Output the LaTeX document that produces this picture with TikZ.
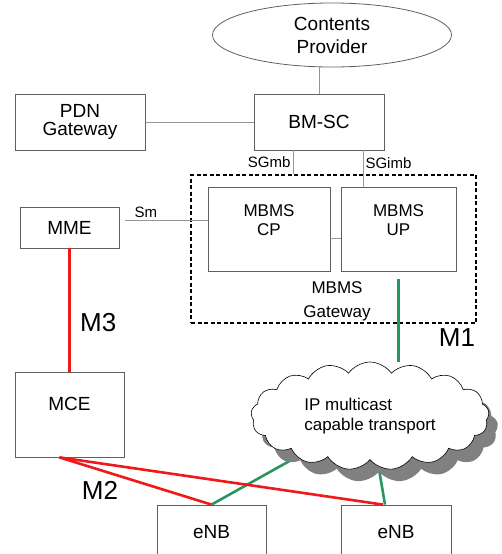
\documentclass[tikz,border=0pt]{standalone}
\usepackage{fontspec}
\setmainfont{Liberation Sans}
\usetikzlibrary{shapes,shapes.symbols,shadows,backgrounds}
\definecolor{boxgray}{RGB}{95,95,95}
\definecolor{linkgray}{RGB}{150,150,150}
\definecolor{mred}{RGB}{240,25,25}
\definecolor{mgreen}{RGB}{40,150,95}
\tikzstyle{block} = [rectangle, draw=boxgray, line width=0.8pt, fill=white,
    align=center, inner sep=0pt, font=\fontsize{19}{18}\selectfont]
\tikzstyle{mbms} = [block, minimum height=84pt, text depth=18pt, font=\fontsize{17}{18.5}\selectfont]
\tikzstyle{line} = [draw=linkgray, line width=1pt]
\tikzstyle{redline} = [draw=mred, line width=2.6pt]
\tikzstyle{greenline} = [draw=mgreen, line width=2.6pt]
\tikzstyle{ifname} = [font=\fontsize{15}{15}\selectfont, inner sep=2pt]
\tikzstyle{mlabel} = [font=\fontsize{26}{26}\selectfont]

\begin{document}
\begin{tikzpicture}[x=1pt, y=-1pt, node distance=2cm, auto]
    \useasboundingbox (0,0) rectangle (502,554);
    \clip (0,0) rectangle (502,554);
    % Place nodes
    \node [ellipse, draw=boxgray, line width=0.8pt, minimum width=239pt, minimum height=64pt,
        align=center, inner sep=0pt, font=\fontsize{19}{23}\selectfont] (provider) at (332,35) {Contents\\Provider};
    \node [block, minimum width=130pt, minimum height=56pt] (bmsc) at (319,122) {BM-SC};
    \node [block, minimum width=130pt, minimum height=56pt, left of=bmsc, node distance=239pt] (pdn) {PDN\\Gateway};
    \node [rectangle, draw=black, line width=1.4pt, dash pattern=on 4pt off 2.5pt,
        minimum width=285pt, minimum height=148pt] (gw) at (333.5,249) {};
    \node [mbms, minimum width=122pt] (mbmscp) at (269,229) {MBMS\\CP};
    \node [mbms, minimum width=115pt, right of=mbmscp, node distance=129.5pt] (mbmsup) {MBMS\\UP};
    \node [align=center, font=\fontsize{17}{24}\selectfont] (gwlabel) at (337,301) {MBMS\\Gateway};
    \node [block, minimum width=99pt, minimum height=41pt] (mme) at (69.5,227.5) {MME};
    \node [block, minimum width=109pt, minimum height=85pt, text depth=22pt, below of=mme, node distance=187pt] (mce) {MCE};
    \node [block, minimum width=109pt, minimum height=54pt] (enba) at (211.5,532) {eNB};
    \node [block, minimum width=110pt, minimum height=54pt, right of=enba, node distance=184.5pt] (enbb) {eNB};
    \node [cloud, cloud puffs=17, cloud puff arc=110, cloud ignores aspect, draw=black, line width=0.6pt, fill=white,
        minimum width=238pt, minimum height=108pt, align=left, font=\fontsize{17}{20}\selectfont,
        drop shadow={shadow xshift=9pt, shadow yshift=-12pt, fill=black!50, opacity=1}] (cloud) at (370,416)
        {IP multicast\\capable transport};
    \node [mlabel] (m1) at (457,338) {M1};
    \node [mlabel] (m2) at (100,490) {M2};
    % Draw edges
    \path [line] (bmsc.north) -- (bmsc.north |- provider.south);
    \path [line] (pdn) -- (bmsc);
    \path [line] ([xshift=-26pt]bmsc.south) -- node [ifname, left, pos=0.5] {SGmb} ([xshift=-26pt]bmsc.south |- gw.north);
    \path [line] ([xshift=44pt]bmsc.south) -- node [ifname, right, pos=0.35] {SGimb} ([xshift=44pt]bmsc.south |- mbmsup.north);
    \path [line, shorten <=6pt] ([yshift=7pt]mme.east) -- node [ifname, above, pos=0.3] {Sm} ([yshift=7pt]mme.east -| mbmscp.west);
    \path [line] ([yshift=-9pt]mbmscp.east) -- ([yshift=-9pt]mbmsup.west);
    \path [greenline, shorten <=8pt] (mbmsup.south) -- (mbmsup.south |- cloud.north);
    \begin{scope}[on background layer]
        \path [greenline] (enba.north) -- (cloud);
        \path [greenline] ([xshift=-11pt]enbb.north) -- (cloud);
    \end{scope}
    \path [redline] (mme) -- node [mlabel, right=6pt, pos=0.6] {M3} (mce);
    \path [redline] ([xshift=-10pt]mce.south) -- (enba.north);
    \path [redline] ([xshift=-10pt]mce.south) -- ([xshift=-13pt]enbb.north);

\end{tikzpicture}
\end{document}
